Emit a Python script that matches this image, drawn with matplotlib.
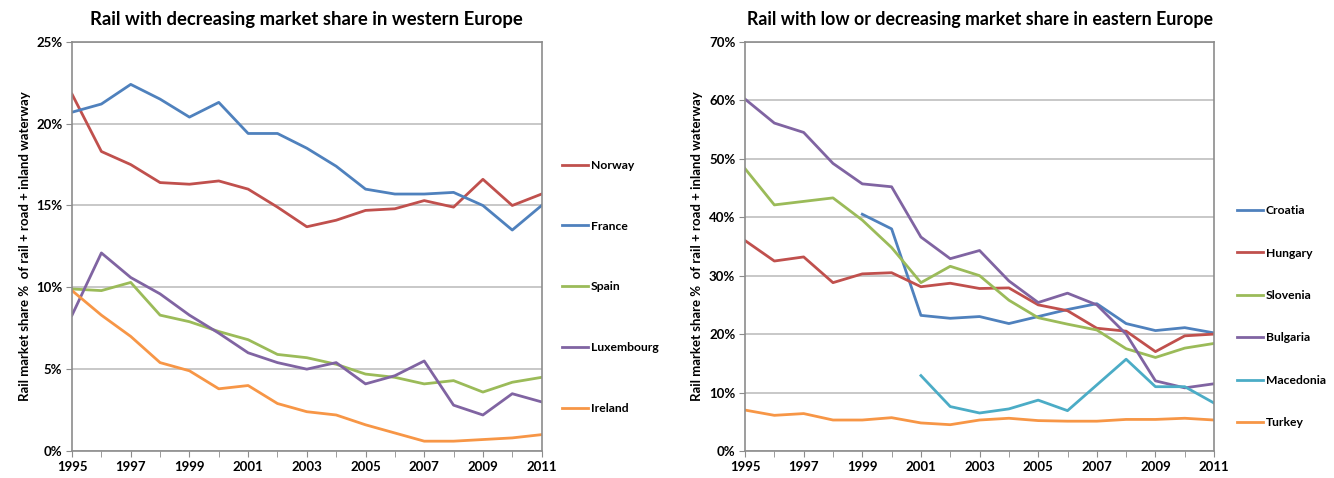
import numpy as np
import matplotlib
matplotlib.use("Agg")
from matplotlib import pyplot as plt
from matplotlib.ticker import FuncFormatter

plt.rcParams['font.family'] = ['Lato', 'DejaVu Sans']

# --- data ---
years = list(range(1995, 2012))

# western Europe (rail share, %)
norway = [21.8, 18.3, 17.5, 16.4, 16.3, 16.5, 16.0, 14.9, 13.7, 14.1, 14.7, 14.8, 15.3, 14.9, 16.6, 15.0, 15.7]
france = [20.7, 21.2, 22.4, 21.5, 20.4, 21.3, 19.4, 19.4, 18.5, 17.4, 16.0, 15.7, 15.7, 15.8, 15.0, 13.5, 15.0]
spain = [9.9, 9.8, 10.3, 8.3, 7.9, 7.3, 6.8, 5.9, 5.7, 5.3, 4.7, 4.5, 4.1, 4.3, 3.6, 4.2, 4.5]
luxembourg = [8.3, 12.1, 10.6, 9.6, 8.3, 7.2, 6.0, 5.4, 5.0, 5.4, 4.1, 4.6, 5.5, 2.8, 2.2, 3.5, 3.0]
ireland = [9.8, 8.3, 7.0, 5.4, 4.9, 3.8, 4.0, 2.9, 2.4, 2.2, 1.6, 1.1, 0.6, 0.6, 0.7, 0.8, 1.0]

# eastern Europe (rail share, %), None = no data
croatia = [None] * 4 + [40.5, 38.0, 23.2, 22.7, 23.0, 21.8, 23.0, 24.2, 25.2, 21.8, 20.6, 21.1, 20.2]
hungary = [36.0, 32.5, 33.2, 28.8, 30.3, 30.5, 28.1, 28.7, 27.8, 27.9, 25.0, 24.0, 21.0, 20.5, 17.0, 19.7, 20.0]
slovenia = [48.3, 42.1, 42.7, 43.3, 39.5, 34.8, 28.8, 31.6, 30.0, 25.8, 22.8, 21.7, 20.7, 17.5, 16.0, 17.6, 18.4]
bulgaria = [60.2, 56.1, 54.5, 49.2, 45.7, 45.2, 36.6, 32.9, 34.3, 29.1, 25.4, 27.0, 25.0, 20.0, 12.0, 10.8, 11.5]
macedonia = [None] * 6 + [12.9, 7.6, 6.5, 7.2, 8.7, 6.9, 11.3, 15.7, 11.0, 11.0, 8.2]
turkey = [7.0, 6.1, 6.4, 5.3, 5.3, 5.7, 4.8, 4.5, 5.3, 5.6, 5.2, 5.1, 5.1, 5.4, 5.4, 5.6, 5.3]

west = [('Norway', norway, '#C0504D'), ('France', france, '#4F81BD'),
        ('Spain', spain, '#9BBB59'), ('Luxembourg', luxembourg, '#8064A2'),
        ('Ireland', ireland, '#F79646')]
east = [('Croatia', croatia, '#4F81BD'), ('Hungary', hungary, '#C0504D'),
        ('Slovenia', slovenia, '#9BBB59'), ('Bulgaria', bulgaria, '#8064A2'),
        ('Macedonia', macedonia, '#4BACC6'), ('Turkey', turkey, '#F79646')]

ylabel = 'Rail market share %  of rail + road + inland waterway'


def style_axes(ax, ymax, ystep):
    '''excel-like look: grey box, horizontal grid, outward ticks'''
    ax.set_xlim(1995, 2011)
    ax.set_ylim(0, ymax)
    ax.set_xticks(years, minor=True)
    ax.set_xticks(years[::2])
    ax.set_yticks(np.arange(0, ymax + 0.1, ystep))
    ax.yaxis.set_major_formatter(FuncFormatter(lambda v, p: '%d%%' % round(v)))
    ax.grid(axis='y', color='#BFBFBF', linewidth=1.2)
    ax.set_axisbelow(True)
    for s in ax.spines.values():
        s.set_color('#8C8C8C')
        s.set_linewidth(1.2)
    ax.tick_params(which='both', direction='out', color='#8C8C8C', length=4,
                   labelsize=9.5, pad=3)
    ax.tick_params(axis='x', which='minor', length=4)
    for lab in ax.get_xticklabels() + ax.get_yticklabels():
        lab.set_fontweight('bold')
    ax.set_ylabel(ylabel, fontsize=9.5, fontweight='bold', labelpad=4)


def to_arr(vals):
    return np.array([np.nan if v is None else v for v in vals], dtype=float)


fig = plt.figure(figsize=(13.34, 4.78), dpi=100)
ax1 = fig.add_axes([0.054, 0.0565, 0.352, 0.856])
ax2 = fig.add_axes([0.5585, 0.0565, 0.3516, 0.856])

for name, vals, col in west:
    ax1.plot(years, to_arr(vals), color=col, linewidth=2.0, label=name)
for name, vals, col in east:
    ax2.plot(years, to_arr(vals), color=col, linewidth=2.0, label=name)

style_axes(ax1, 25, 5)
style_axes(ax2, 70, 10)

ax1.set_title('Rail with decreasing market share in western Europe',
              fontsize=13.3, fontweight='bold', pad=12)
ax2.set_title('Rail with low or decreasing market share in eastern Europe',
              fontsize=12.8, fontweight='bold', pad=12)

leg1 = ax1.legend(loc='center left', bbox_to_anchor=(1.02, 0.401), frameon=False,
                  prop={'weight': 'bold', 'size': 8.7}, handlelength=2.2,
                  handletextpad=0.2, labelspacing=4.12)
leg2 = ax2.legend(loc='center left', bbox_to_anchor=(1.025, 0.328), frameon=False,
                  prop={'weight': 'bold', 'size': 8.7}, handlelength=2.2,
                  handletextpad=0.2, labelspacing=2.6)

plt.savefig('out.png', dpi=100)
